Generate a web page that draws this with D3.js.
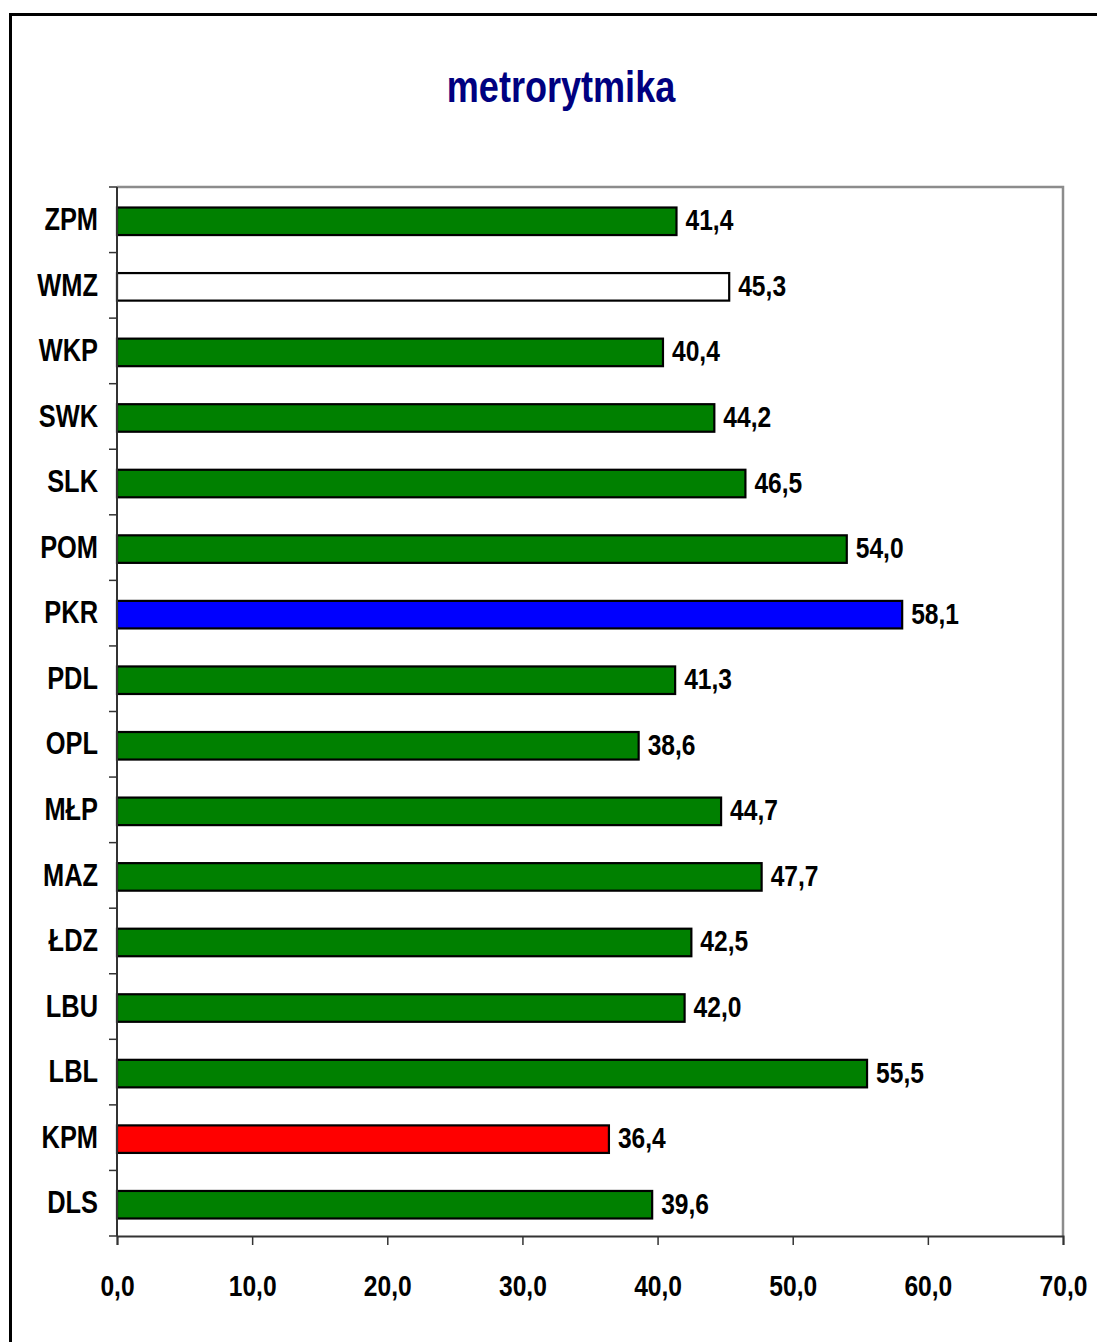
<!DOCTYPE html>
<html><head><meta charset="utf-8">
<script src="https://cdn.jsdelivr.net/npm/d3@7"></script>
<style>
html,body{margin:0;padding:0;background:#fff;}
svg{display:block;}
text{font-family:"Liberation Sans",Arial,sans-serif;font-weight:bold;}
</style></head><body>
<svg id="c" width="1097" height="1342"></svg>
<script>
const title = "metrorytmika";
const categories = ["ZPM","WMZ","WKP","SWK","SLK","POM","PKR","PDL","OPL","MŁP","MAZ","ŁDZ","LBU","LBL","KPM","DLS"];
const values = [41.4,45.3,40.4,44.2,46.5,54.0,58.1,41.3,38.6,44.7,47.7,42.5,42.0,55.5,36.4,39.6];
const barColors = ["#008000","#ffffff","#008000","#008000","#008000","#008000","#0000ff","#008000","#008000","#008000","#008000","#008000","#008000","#008000","#ff0000","#008000"];
const xTicks = [0,10,20,30,40,50,60,70];

const svg = d3.select("#c");
const L=117, R=1063, T=187, B=1236;
const NARROW = 0.82;
const fmt = v => v.toFixed(1).replace(".", ",");

// outer frame
svg.append("rect").attr("x",10.5).attr("y",14.5).attr("width",1200).attr("height",1400)
  .attr("fill","#fff").attr("stroke","#000").attr("stroke-width",3);

// title
svg.append("g").attr("transform","translate(561,102)")
  .append("text").attr("text-anchor","middle").attr("transform",`scale(${NARROW},1)`)
  .attr("fill","#000080").style("font-size","44px").text(title);

const x = d3.scaleLinear().domain([0,70]).range([L,R]);
const y = d3.scaleBand().domain(categories).range([T+1.5,B+1.5]).paddingInner(0.58).paddingOuter(0.29);

// plot frame (top/right grey)
svg.append("path").attr("d",`M${L},${T}H${R}V${B}`).attr("fill","none")
  .attr("stroke","#8c8c8c").attr("stroke-width",2.5);

// bars
const data = categories.map((c,i)=>({c, v:values[i], col:barColors[i]}));
svg.append("g").selectAll("rect").data(data).join("rect")
  .attr("x",x(0)).attr("y",d=>y(d.c)).attr("width",d=>x(d.v)-x(0)).attr("height",y.bandwidth())
  .attr("fill",d=>d.col).attr("stroke","#000").attr("stroke-width",2.2);

// value labels
svg.append("g").selectAll("g").data(data).join("g")
  .attr("transform",d=>`translate(${x(d.v)+9},${y(d.c)+y.bandwidth()/2})`)
  .append("text").attr("dy","0.3em").attr("transform",`scale(${NARROW},1)`)
  .style("font-size","30px").attr("fill","#000").text(d=>fmt(d.v));

// x axis
const xa = svg.append("g").attr("transform",`translate(0,${B})`)
  .call(d3.axisBottom(x).tickValues(xTicks).tickSize(9).tickFormat(fmt));
xa.select(".domain").attr("stroke","#333").attr("stroke-width",2);
xa.selectAll(".tick line").attr("stroke","#333").attr("stroke-width",1.5);
xa.selectAll(".tick text").attr("y",60).attr("dy",0).attr("transform",`scale(${NARROW},1)`)
  .style("font-size","30px").attr("fill","#000");

// y axis: ticks at band boundaries
const step = y.step();
const bounds = categories.map(c=>y(c) - step*y.paddingInner()/2 - 1.5).concat([B]);
const ya = svg.append("g");
ya.append("line").attr("x1",L).attr("x2",L).attr("y1",T).attr("y2",B).attr("stroke","#333").attr("stroke-width",2);
ya.selectAll("line.t").data(bounds).join("line").attr("class","t")
  .attr("x1",L-8).attr("x2",L).attr("y1",d=>d).attr("y2",d=>d).attr("stroke","#333").attr("stroke-width",1.5);
ya.selectAll("g.lab").data(categories).join("g").attr("class","lab")
  .attr("transform",c=>`translate(${L-19},${y(c)+y.bandwidth()/2})`)
  .append("text").attr("dy","0.28em").attr("text-anchor","end").attr("transform",`scale(${NARROW},1)`)
  .style("font-size","31px").attr("fill","#000").text(c=>c);
</script>
</body></html>
